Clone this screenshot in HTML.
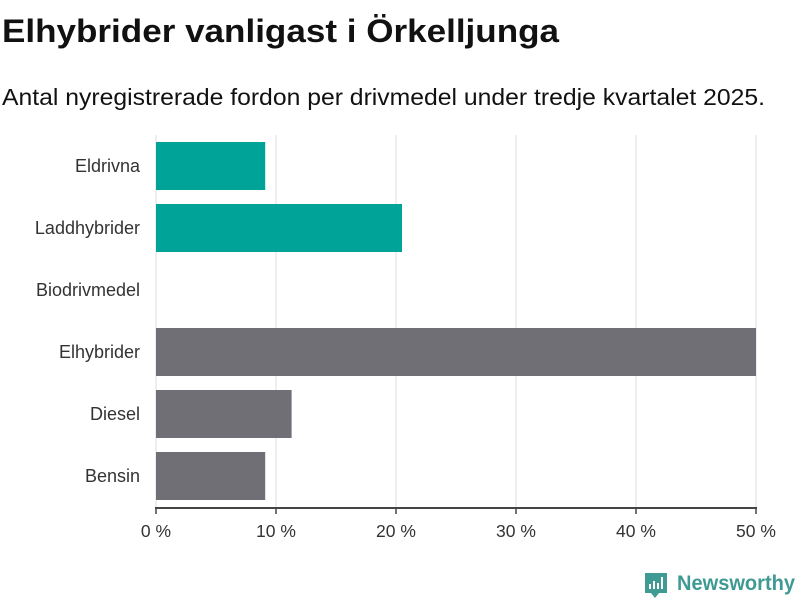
<!DOCTYPE html>
<html><head><meta charset="utf-8"><style>
body{margin:0;width:800px;height:600px;background:#fff;font-family:"Liberation Sans",sans-serif;overflow:hidden}
</style></head><body>
<svg width="800" height="600">
<text x="2" y="42" font-size="32" font-weight="bold" fill="#111" textLength="557" lengthAdjust="spacingAndGlyphs">Elhybrider vanligast i Örkelljunga</text>
<text x="2" y="105" font-size="23" fill="#111" textLength="763" lengthAdjust="spacingAndGlyphs">Antal nyregistrerade fordon per drivmedel under tredje kvartalet 2025.</text>
<g id="plot"></g>
<g>
<path d="M645 573 h22 v20 h-8 l-4 5 l-4 -5 h-6 z" fill="#3f9a94"/>
<rect x="649" y="584" width="2" height="5" fill="#fff"/><rect x="653" y="581" width="2" height="8" fill="#fff"/><rect x="657" y="583" width="2" height="6" fill="#fff"/><rect x="661" y="577" width="2" height="12" fill="#fff"/>
<text x="677" y="590" font-size="21" font-weight="bold" fill="#3f9a94" textLength="118" lengthAdjust="spacingAndGlyphs">Newsworthy</text>
</g>
</svg>
<script>
const categories=["Eldrivna","Laddhybrider","Biodrivmedel","Elhybrider","Diesel","Bensin"];
const values=[9.1,20.5,0,50,11.3,9.1];
const colors=["#00a398","#00a398","#00a398","#706f76","#706f76","#706f76"];
const ticks=[0,10,20,30,40,50];
const NS="http://www.w3.org/2000/svg",g=document.getElementById("plot");
const x=v=>156+v*12, y=i=>142+i*62;
function mk(t,a){const e=document.createElementNS(NS,t);for(const k in a)e.setAttribute(k,a[k]);g.appendChild(e);return e;}
ticks.forEach(t=>{
 const l=mk("line",{x1:x(t),x2:x(t),y1:135,y2:508,stroke:"#ddd"});
 
 
 const tk=mk("line",{x1:x(t),x2:x(t),y1:508,y2:514,stroke:"#444","stroke-width":1.5});
 
 
 const tx=mk("text",{x:x(t),y:537,"font-size":17.5,fill:"#333","text-anchor":"middle"});
 tx.textContent=t+" %";
 
 
});
categories.forEach((c,i)=>{
 const r=mk("rect",{x:x(0),y:y(i),width:x(values[i])-x(0),height:48,fill:colors[i]});
 
 
 const t=mk("text",{x:140,y:y(i)+30,"font-size":18,fill:"#333","text-anchor":"end"});
 t.textContent=c;
 
 
});
const ax=mk("line",{x1:155,x2:757,y1:508,y2:508,stroke:"#444","stroke-width":2});


</script>
</body></html>
